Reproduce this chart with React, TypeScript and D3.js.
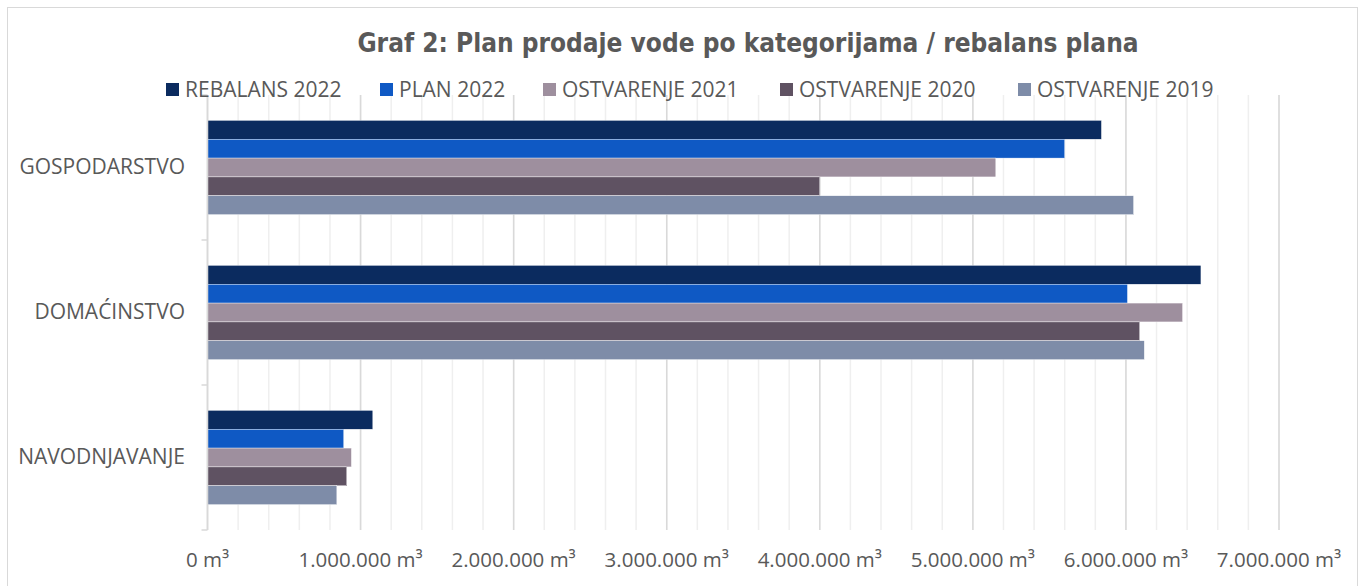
import React from "react";
import * as d3 from "d3";

const categories = ["GOSPODARSTVO", "DOMAĆINSTVO", "NAVODNJAVANJE"];
const seriesNames = ["REBALANS 2022", "PLAN 2022", "OSTVARENJE 2021", "OSTVARENJE 2020", "OSTVARENJE 2019"];
const rebalans2022 = [5840000, 6490000, 1080000];
const plan2022 = [5600000, 6010000, 890000];
const ostvarenje2021 = [5150000, 6370000, 940000];
const ostvarenje2020 = [4000000, 6090000, 910000];
const ostvarenje2019 = [6050000, 6120000, 845000];
const seriesValues = [rebalans2022, plan2022, ostvarenje2021, ostvarenje2020, ostvarenje2019];
const seriesColors = ["#0B2B5F", "#0F59C4", "#9E8F9E", "#5F5262", "#7E8CA8"];
const majorTicks = [0, 1000000, 2000000, 3000000, 4000000, 5000000, 6000000, 7000000];
const minorTicks = d3.range(0, 7000001, 200000);

const W = 1365;
const H = 586;
const FONT = "'Open Sans', sans-serif";
const TITLE_FONT = "'DejaVu Sans Condensed', 'DejaVu Sans', sans-serif";
const TXT = "#595959";

const fmt = (v: number) =>
  (v === 0 ? "0" : d3.format(",")(v).replace(/,/g, ".")) + " m³";

export default function App() {
  const plot = { left: 207.5, right: 1279, top: 95, bottom: 530 };
  const x = d3.scaleLinear().domain([0, 7000000]).range([plot.left, plot.right]);
  const y = d3.scaleBand<string>().domain(categories).range([plot.top, plot.bottom]);
  const groupH = y.bandwidth() * 0.65;
  const inner = d3
    .scaleBand<number>()
    .domain(d3.range(seriesNames.length))
    .range([0, groupH]);
  const legendX = [166, 380, 543, 780, 1018];

  return (
    <div style={{ position: "fixed", left: 0, top: 0 }}>
      <svg width={W} height={H} style={{ display: "block", background: "#fff" }}>
        <rect x={7.5} y={7.5} width={1350} height={600} fill="#fff" stroke="#D9D9D9" strokeWidth={1} />
        <text
          x={748}
          y={52}
          textAnchor="middle"
          fontFamily={TITLE_FONT}
          fontWeight="bold"
          fontSize={26}
          fill={TXT}
        >
          Graf 2: Plan prodaje vode po kategorijama / rebalans plana
        </text>
        {minorTicks.map((t) => (
          <line key={"mi" + t} x1={x(t)} x2={x(t)} y1={plot.top} y2={plot.bottom} stroke="#EFEFEF" strokeWidth={1.5} />
        ))}
        {majorTicks.map((t) => (
          <line key={"ma" + t} x1={x(t)} x2={x(t)} y1={plot.top} y2={plot.bottom} stroke="#D9D9D9" strokeWidth={1.5} />
        ))}
        {seriesNames.map((s, si) => (
          <g key={s}>
            {categories.map((c, ci) => (
              <rect
                key={c}
                x={x(0)}
                y={(y(c) as number) + (y.bandwidth() - groupH) / 2 + (inner(si) as number)}
                width={x(seriesValues[si][ci]) - x(0)}
                height={inner.bandwidth()}
                fill={seriesColors[si]}
                stroke="#ffffff"
                strokeWidth={0.4}
              />
            ))}
          </g>
        ))}
        <line x1={x(0)} x2={x(0)} y1={plot.top} y2={plot.bottom} stroke="#D9D9D9" strokeWidth={1.5} />
        {[plot.top, ...categories.map((c) => (y(c) as number) + y.bandwidth())].map((v, i) => (
          <line key={"tk" + i} x1={x(0) - 6} x2={x(0)} y1={v} y2={v} stroke="#D9D9D9" strokeWidth={1.5} />
        ))}
        {categories.map((c) => (
          <text
            key={c}
            x={185}
            y={(y(c) as number) + y.bandwidth() / 2 + 6}
            textAnchor="end"
            fontFamily={FONT}
            fontSize={21}
            fill={TXT}
          >
            {c}
          </text>
        ))}
        {majorTicks.map((t) => (
          <text
            key={"lb" + t}
            x={x(t)}
            y={567}
            textAnchor="middle"
            fontFamily={FONT}
            fontSize={20.5}
            fill={TXT}
          >
            {fmt(t)}
          </text>
        ))}
        {seriesNames.map((s, i) => (
          <g key={"lg" + s}>
            <rect x={legendX[i]} y={83} width={13} height={13} fill={seriesColors[i]} />
            <text x={legendX[i] + 19} y={97} fontFamily={FONT} fontSize={21} fill={TXT}>
              {s}
            </text>
          </g>
        ))}
      </svg>
    </div>
  );
}
